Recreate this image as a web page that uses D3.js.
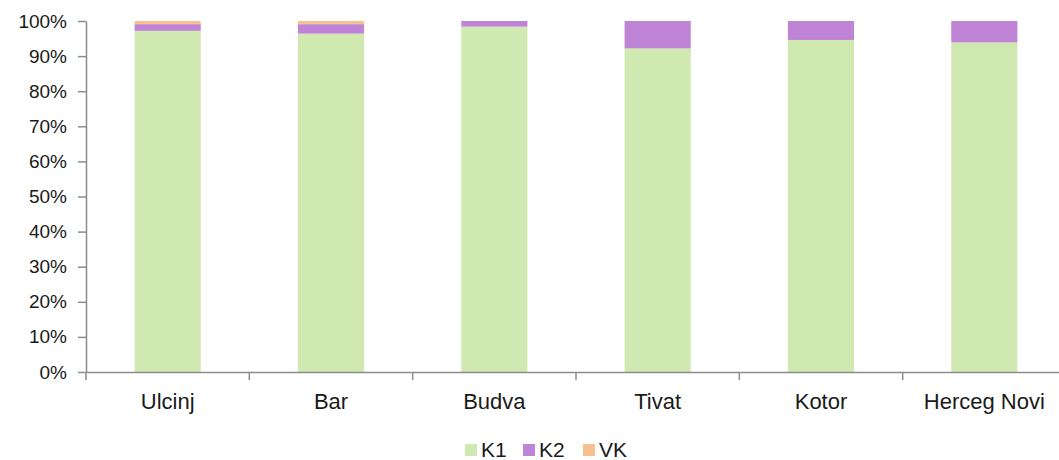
<!DOCTYPE html>
<html>
<head>
<meta charset="utf-8">
<script src="https://cdn.jsdelivr.net/npm/d3@7"></script>
<style>
  body { margin: 0; background: #fff; }
  text { font-family: "Liberation Sans", Arial, sans-serif; fill: #1a1a1a; }
</style>
</head>
<body>
<div id="container"></div>
<script>
const categories = ["Ulcinj", "Bar", "Budva", "Tivat", "Kotor", "Herceg Novi"]
const k1 = [97.2, 96.4, 98.4, 92.2, 94.6, 93.9]
const k2 = [1.9, 2.7, 1.6, 7.8, 5.4, 6.1]
const vk = [0.9, 0.9, 0, 0, 0, 0]
const seriesNames = ["K1", "K2", "VK"]
const seriesColors = ["#d0e9b1", "#bf84d6", "#f9c08f"]
const yTicks = [0, 10, 20, 30, 40, 50, 60, 70, 80, 90, 100]

const rows = categories.map((c, i) => ({ cat: c, K1: k1[i], K2: k2[i], VK: vk[i] }))
const stacked = d3.stack().keys(seriesNames)(rows)

const svg = d3.select("div#container")
    .append("svg")
    .attr("width", 1059)
    .attr("height", 460)

const x = d3.scaleBand()
    .domain(categories)
    .range([86, 1066])
    .padding(0)

const y = d3.scaleLinear()
    .domain([0, 100])
    .range([372, 21])

const barW = x.bandwidth() * 0.405

// bars
svg.selectAll("g.series")
    .data(stacked)
    .enter()
    .append("g")
    .attr("class", "series")
    .attr("fill", (d, i) => seriesColors[i])
    .selectAll("rect")
    .data(d => d)
    .enter()
    .append("rect")
    .attr("x", d => x(d.data.cat) + (x.bandwidth() - barW) / 2)
    .attr("y", d => y(d[1]))
    .attr("width", barW)
    .attr("height", d => y(d[0]) - y(d[1]))

// y axis
const yAxis = svg.append("g")
    .attr("transform", "translate(86,0)")
    .call(d3.axisLeft(y).tickValues(yTicks).tickFormat(d => d + "%").tickSize(8).tickPadding(11).tickSizeOuter(0))
yAxis.select(".domain").attr("stroke", "#8c8c8c").attr("stroke-width", 1.5)
yAxis.selectAll(".tick line").attr("stroke", "#8c8c8c").attr("stroke-width", 1.5)
yAxis.selectAll(".tick text").style("font-size", "19px").attr("fill", "#1a1a1a")

// x axis
const xAxis = svg.append("g")
    .attr("transform", "translate(0,372)")
    .call(d3.axisBottom(x).tickSize(0).tickPadding(21).tickSizeOuter(0))
xAxis.select(".domain").attr("stroke", "#8c8c8c").attr("stroke-width", 1.5)
xAxis.selectAll(".tick text").style("font-size", "22px").attr("fill", "#1a1a1a")

// band boundary ticks
svg.append("g")
    .selectAll("line")
    .data(categories)
    .enter()
    .append("line")
    .attr("x1", d => x(d))
    .attr("x2", d => x(d))
    .attr("y1", 372)
    .attr("y2", 380)
    .attr("stroke", "#8c8c8c")
    .attr("stroke-width", 1.5)

// legend
const legendX = [465, 523, 583]
const legend = svg.append("g")
    .selectAll("g")
    .data(seriesNames)
    .enter()
    .append("g")
    .attr("transform", (d, i) => `translate(${legendX[i]},444)`)
legend.append("rect")
    .attr("width", 12)
    .attr("height", 12)
    .attr("fill", (d, i) => seriesColors[i])
legend.append("text")
    .attr("x", 16)
    .attr("y", 13)
    .style("font-size", "21px")
    .text(d => d)
</script>
</body>
</html>
